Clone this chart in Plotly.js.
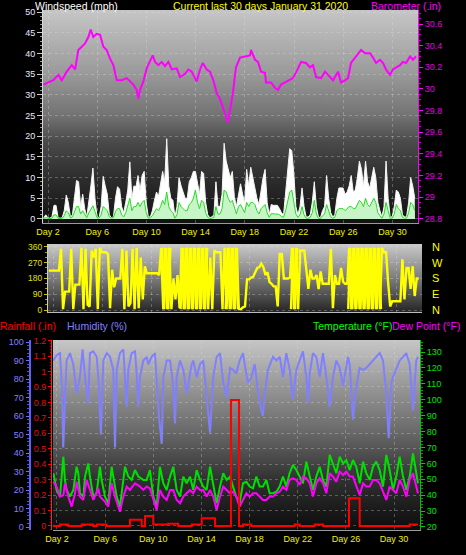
<!DOCTYPE html>
<html><head><meta charset="utf-8">
<script src="https://cdn.plot.ly/plotly-3.0.1.min.js"></script>
<style>html,body{margin:0;padding:0;background:#000;overflow:hidden}#chart{width:466px;height:555px}</style>
</head><body><div id="chart"></div>
<script>
// ---------- data ----------
const dayTicks = [2, 6, 10, 14, 18, 22, 26, 30];
const dayLabels = ["Day 2", "Day 6", "Day 10", "Day 14", "Day 18", "Day 22", "Day 26", "Day 30"];

const windTicks = [0, 5, 10, 15, 20, 25, 30, 35, 40, 45, 50];
const baroTicks = [28.8, 29, 29.2, 29.4, 29.6, 29.8, 30, 30.2, 30.4, 30.6];
const baroLabels = ["28.8", "29", "29.2", "29.4", "29.6", "29.8", "30", "30.2", "30.4", "30.6"];
const dirTicks = [0, 90, 180, 270, 360];
const dirLabels = ["0", "90", "180", "270", "360"];
const compassLabels = ["N", "E", "S", "W", "N"];
const rainTicks = [0, 0.1, 0.2, 0.3, 0.4, 0.5, 0.6, 0.7, 0.8, 0.9, 1, 1.1, 1.2];
const rainLabels = ["0", "0.1", "0.2", "0.3", "0.4", "0.5", "0.6", "0.7", "0.8", "0.9", "1", "1.1", "1.2"];
const humTicks = [0, 10, 20, 30, 40, 50, 60, 70, 80, 90, 100];
const tempTicks = [20, 30, 40, 50, 60, 70, 80, 90, 100, 110, 120, 130];

// wind samples every 4 hours from day 1.65
const windStart = 1.65;
const windStep = 1 / 6;
const windGust = [
  0.3,1,0.3,0.2,0.5,3.3,3.3,0.3,0.2,0.3,
  2,5.8,4,0.5,1,6,9.3,9,3,6,
  2.5,0.5,4,8,12.3,5,0.5,0.3,3,10.3,
  8,6,1,0.3,0.5,5,7.8,7.2,3,1.5,
  4,7,13.8,5,8,7.8,10.5,7,10.5,11.5,
  4,0.5,0.5,2,4.5,6.5,5.5,8.5,11.5,9,
  19.4,8,5,4.5,0.5,3,10,8,6.5,5,
  5,9,10,11.5,11.5,9,6,11.5,11,4,
  1,0.3,0.5,1,9,3,3,6,18.3,14,
  12,10,11.5,5.4,3,5.5,8.5,6,4,12,
  8,12.5,10,8,5,3.5,7,10,12,4,
  1,3.5,3.3,3.3,3.3,2.5,1.5,1,6,12,
  17,16.5,11,3,1,3,7.5,3,0.5,0.5,
  1,4,9,3,0.5,0.3,2,3,10.5,5,
  1.5,0.5,1,5,7.5,7.5,7.5,6,6.5,8,
  10.5,6.5,7,10,14,12,8,14,9,7.5,
  10,12.5,10,4,2,0.5,3,14,5,0.5,
  0.5,3,7,6.5,5,1,0.5,0.5,4,10,
  8,5
];
const windAvg = [
  0.2,0.3,0.2,0.1,0.2,1,1,0.2,0.1,0.1,
  0.8,2,1.5,0.3,0.5,2,3,3,1.2,2,
  1,0.3,1.5,2.5,3.2,1.8,0.3,0.2,1,3,
  2.5,2,0.5,0.2,0.3,1.8,2.5,2.5,1,0.5,
  1.5,3,5,2,3,3,4,3,4,4.5,
  1.5,0.2,0.3,0.8,1.5,2.5,2,3,4.5,3.5,
  6.5,3,2,1.5,0.2,1,4,3,2.5,2,
  2,3.5,4,5,7,4,2.5,4.5,4,1.5,
  0.4,0.1,0.2,0.4,3,1.2,1.2,2.5,7,6.5,
  5,4,4.5,2.5,1.2,3,3.5,2.5,1.5,4,
  3,4,4,3.5,2,1.2,2.5,3,3.5,1.5,
  0.4,1.3,1.2,1.2,1.2,1,0.6,0.4,2,4,
  6.5,7,4,1.2,0.4,1,3,1,0.2,0.2,
  0.4,1.5,4.5,1.2,0.2,0.1,0.8,1.2,3.5,2,
  0.5,0.2,0.4,2,2.5,2.5,2.5,2,2.5,3,
  3,2.5,2.5,3.5,4.5,4,3,5,3.5,3,
  4,5,4,1.5,0.8,0.2,1.2,4,2,0.2,
  0.2,1.2,3.5,2.5,2,0.4,0.2,0.2,1.5,4,
  3.5,2
];
const windDir = [
  225,225,225,225,225,225,350,5,105,105,
  105,350,5,145,145,145,355,5,350,30,
  20,340,300,350,5,355,330,330,330,320,
  10,230,130,180,180,180,350,5,340,20,
  40,350,5,355,10,300,60,250,210,210,
  210,210,210,210,200,355,5,355,5,355,
  5,180,60,200,10,355,5,355,5,355,
  5,355,5,355,5,355,5,355,5,300,
  5,340,330,330,330,5,355,5,355,5,
  355,5,355,5,5,15,20,175,175,185,
  190,215,240,245,265,245,200,215,160,150,
  135,135,20,320,320,180,180,180,185,355,
  5,355,5,340,340,340,230,120,230,180,
  180,200,120,220,150,150,150,150,350,10,
  200,150,150,240,160,150,150,355,5,355,
  5,355,5,355,5,355,5,355,5,355,
  5,355,5,355,330,330,160,20,50,50,
  50,50,50,290,60,240,240,120,250,80,
  180,180
];
// extra in-between readings inside the rapidly flipping (north wind) stretches
const dirFineDay = [10.9,11.067,11.233,11.4,11.567,null,
  12.4,12.567,12.733,12.9,13.067,13.233,13.4,13.567,13.733,13.9,14.067,14.233,14.4,14.567,null,
  16.067,16.233,16.4,16.567,16.733,16.9,17.067,null,
  21.4,21.567,21.733,21.9,null,
  26.067,26.233,26.4,26.567,26.733,26.9,27.067,27.233,27.4,27.567,27.733,27.9,28.067,28.233,28.4,28.567,28.733];
const dirFineVal = [355,5,355,5,355,null,
  5,355,5,355,5,355,5,355,5,355,5,355,5,355,null,
  5,355,5,355,5,355,5,null,
  5,355,5,355,null,
  5,355,5,355,5,355,5,355,5,355,5,355,5,355,5,355,5];

const baroDay = [1.62,2.43,2.84,3.11,3.52,3.93,4.2,4.46,4.74,5.01,5.28,5.47,5.68,5.96,6.23,6.5,6.77,7.04,7.31,7.59,7.99,8.4,8.67,8.93,9.21,9.34,9.48,9.75,10.02,10.29,10.51,10.7,10.97,11.24,11.51,11.78,12.06,12.46,12.73,13.14,13.41,13.68,14.09,14.36,14.58,14.9,15.17,15.44,15.72,15.98,16.25,16.53,16.63,17.04,17.28,17.61,18.02,18.42,18.5,18.83,19.07,19.32,19.64,19.72,20.13,20.45,20.7,20.94,21.27,21.67,21.92,22.33,22.57,22.98,23.3,23.54,23.79,24.2,24.52,24.76,25.17,25.58,25.82,26.15,26.39,26.63,26.96,27.2,27.45,27.77,28.18,28.42,28.67,28.99,29.24,29.48,29.8,30.04,30.29,30.62,30.85,31.11,31.43,31.67,31.92];
const baroVal = [30.04,30.08,30.13,30.08,30.16,30.22,30.18,30.36,30.39,30.42,30.48,30.55,30.48,30.51,30.5,30.39,30.36,30.28,30.22,30.08,30.08,30.1,30.07,30.04,29.99,29.91,29.99,30.07,30.19,30.25,30.31,30.25,30.22,30.25,30.21,30.25,30.18,30.19,30.11,30.14,30.18,30.16,30.07,30.18,30.24,30.18,30.16,30.08,29.96,29.91,29.81,29.73,29.69,29.97,30.2,30.29,30.3,30.31,30.36,30.27,30.25,30.16,30.15,30.06,30.06,30.01,29.99,30.04,30.06,30.08,30.1,30.19,30.25,30.24,30.2,30.22,30.11,30.1,30.16,30.13,30.08,30.16,30.06,30.08,30.1,30.24,30.29,30.33,30.36,30.33,30.33,30.29,30.24,30.27,30.24,30.18,30.13,30.18,30.2,30.22,30.25,30.24,30.3,30.27,30.3];

const humDay = [1.69,1.98,2.25,2.42,2.52,2.66,2.8,3.08,3.35,3.64,3.91,4.13,4.33,4.6,4.74,5.01,5.3,5.43,5.65,5.85,6.13,6.4,6.68,6.82,6.96,7.23,7.51,7.65,7.79,7.92,8.2,8.48,8.62,8.75,8.89,9.17,9.45,9.58,9.86,10.14,10.28,10.47,10.7,10.83,11.11,11.39,11.66,11.8,11.94,12.22,12.49,12.77,13.19,13.32,13.6,13.88,14.15,14.43,14.71,14.98,15.26,15.54,15.81,16.1,16.37,16.62,16.89,17.17,17.45,17.59,17.86,18.14,18.42,18.69,18.97,19.11,19.25,19.52,19.94,20.22,20.5,20.77,21.05,21.33,21.6,21.88,22.16,22.43,22.71,22.85,22.99,23.26,23.54,23.82,24.09,24.37,24.65,24.92,25.2,25.48,25.75,26.17,26.31,26.58,26.86,27.14,27.42,27.69,27.97,28.25,28.8,29.08,29.35,29.55,29.77,29.91,30.18,30.46,30.74,31.01,31.29,31.57,31.84,31.98];
const humVal = [90,93,94,75,43,70,90,94,88,72,81,96,81,67,94,95,92,81,50,90,94,92,85,43,85,94,96,81,65,85,94,95,83,65,81,90,92,88,92,94,78,60,45,81,90,90,76,56,81,90,85,72,88,90,81,88,90,72,51,81,92,94,78,70,86,85,83,90,94,88,78,81,88,74,63,60,72,85,92,90,92,81,94,85,69,85,90,95,81,67,83,94,92,81,94,81,65,81,90,86,76,92,88,58,76,86,85,86,88,90,94,90,72,48,78,81,86,90,92,94,88,63,90,92];

const tempDay = [1.70,1.97,2.25,2.39,2.53,2.66,2.80,3.08,3.36,3.63,3.77,3.91,4.19,4.33,4.60,4.74,5.02,5.29,5.57,5.71,5.99,6.26,6.54,6.68,6.96,7.23,7.51,7.65,7.92,8.20,8.48,8.76,9.17,9.45,9.72,9.86,10.0,10.28,10.55,10.83,11.11,11.39,11.66,11.94,12.22,12.49,12.77,13.05,13.32,13.60,13.88,14.15,14.43,14.71,14.98,15.26,15.54,15.81,16.09,16.37,
  16.62,16.89,17.17,17.45,17.73,18.0,18.28,18.56,18.83,19.11,19.39,19.66,19.94,20.22,20.49,20.77,21.05,21.32,21.60,21.88,22.16,22.43,22.71,22.99,23.26,23.54,23.82,24.09,24.37,24.65,24.92,25.20,25.48,25.76,26.03,26.31,26.58,26.86,27.14,27.42,27.69,27.97,28.25,28.52,28.80,29.08,29.35,29.63,29.91,30.18,30.46,30.74,31.02,31.29,31.57,31.85,31.98];
const tempVal = [53.8,43.3,39.1,49.6,64.2,49.6,43.3,39.1,43.3,57.9,53.8,41.2,39.1,51.7,60.0,51.7,39.1,41.2,57.9,49.6,39.1,34.9,57.9,51.7,39.1,32.8,51.7,57.9,51.7,49.6,55.8,51.7,49.6,49.6,55.8,47.5,39.1,32.8,57.9,47.5,43.3,51.7,57.9,43.3,39.1,51.7,47.5,51.7,43.3,55.8,49.6,45.4,43.3,57.9,47.5,34.9,45.4,53.8,49.6,51.7,
  45.4,39.1,34.9,47.5,48.5,45.4,44.3,51.7,45.4,45.4,49.6,41.2,41.2,42.2,45.4,51.7,45.4,53.8,59.0,55.8,51.7,47.5,61.1,51.7,43.3,51.7,57.9,49.6,45.4,65.3,60.0,53.8,64.2,60.0,62.1,55.8,62.1,57.9,47.5,61.1,53.8,49.6,57.9,61.1,55.8,45.4,65.3,55.8,43.3,51.7,64.2,51.7,43.3,51.7,66.3,53.8,47.5];

const dewDay = [1.70,1.97,2.25,2.53,2.66,2.94,3.22,3.50,3.63,3.91,4.19,4.46,4.74,5.02,5.43,5.57,5.99,6.26,6.54,6.82,7.23,7.51,7.79,8.06,8.48,8.89,9.17,9.45,9.72,10.0,10.28,10.55,10.83,11.11,11.39,11.66,11.94,12.22,12.49,12.77,13.05,13.32,13.60,13.88,14.15,14.43,14.71,14.98,15.26,15.54,15.81,16.09,16.37,
  16.62,16.89,17.17,17.45,17.73,18.0,18.28,18.56,18.83,19.11,19.39,19.66,19.94,20.22,20.49,20.77,21.05,21.32,21.60,21.88,22.16,22.43,22.71,22.99,23.26,23.54,23.82,24.09,24.37,24.65,24.92,25.20,25.48,25.76,26.03,26.31,26.58,26.86,27.14,27.42,27.69,27.97,28.25,28.52,28.80,29.08,29.35,29.63,29.91,30.18,30.46,30.74,31.02,31.29,31.57,31.85,31.98];
const dewVal = [48.5,45.4,39.1,40.1,47.5,39.1,32.8,41.2,48.5,39.1,37.0,49.6,43.3,37.0,44.3,39.1,35.9,32.8,47.5,39.1,29.6,39.1,45.4,43.3,47.5,45.4,43.3,45.4,44.3,37.0,30.7,43.3,39.1,37.0,43.3,43.3,37.0,34.9,39.1,41.2,43.3,41.2,45.4,43.3,43.3,39.1,43.3,39.1,30.7,39.1,45.4,43.3,41.2,
  42.2,39.1,32.8,37.0,41.2,39.1,41.2,41.2,39.1,37.0,37.0,39.1,39.1,41.2,42.2,45.4,43.3,49.6,50.6,49.6,46.4,51.7,50.6,47.5,39.1,47.5,50.6,47.5,41.2,53.8,51.7,48.5,54.8,52.7,54.8,51.7,51.7,45.4,40.1,47.5,45.4,45.4,49.6,49.6,47.5,42.2,37.0,45.4,43.3,41.2,49.6,45.4,39.1,49.6,53.8,45.4,41.2];

const rainDay = [1.62,2.25,2.94,4.05,5.01,5.3,6.13,8.06,9.03,9.31,10.0,11.24,12.07,13.19,14.02,15.12,16.45,17.12,17.45,18.14,21.74,22.16,23.4,24.1,26.25,27.14,31.29,31.98];
const rainVal = [0,0.01,0,0.01,0,0.01,0,0.04,0,0.065,0.01,0.015,0,0.01,0.05,0,0.815,0,0.01,0,0.01,0,0.01,0,0.18,0,0.01,0.01];

// ---------- layout helpers ----------
const W = 466, H = 555;
const fx = p => p / W, fy = p => 1 - p / H;
const TOP = {l: 43, r: 418, t: 10, b: 223};
const MID = {l: 48, r: 422, t: 244, b: 312};
const BOT = {l: 53, r: 420, t: 340, b: 530};
const FONT = 'Liberation Sans, Arial, sans-serif';
const GRID = 'rgba(225,225,225,0.3)';

function gradient(stops) {
  const c = document.createElement('canvas');
  c.width = 2; c.height = 256;
  const g = c.getContext('2d');
  const lg = g.createLinearGradient(0, 0, 0, 256);
  stops.forEach(s => lg.addColorStop(s[0], s[1]));
  g.fillStyle = lg; g.fillRect(0, 0, 2, 256);
  return c.toDataURL();
}
function bgImage(p, stops) {
  return {source: gradient(stops), xref: 'paper', yref: 'paper', x: fx(p.l), y: fy(p.t),
    sizex: fx(p.r) - fx(p.l), sizey: (p.b - p.t) / H, sizing: 'stretch',
    xanchor: 'left', yanchor: 'top', layer: 'below'};
}

const windX = windGust.map((_, i) => windStart + i * windStep);

const traces = [
  {x: windX, y: windGust, xaxis: 'x', yaxis: 'y', mode: 'lines', fill: 'tozeroy',
   fillcolor: '#ffffff', line: {color: '#f4f4f4', width: 1}, hoverinfo: 'skip'},
  {x: windX, y: windAvg, xaxis: 'x', yaxis: 'y', mode: 'lines', fill: 'tozeroy',
   fillcolor: '#c8f5c8', line: {color: '#22dd22', width: 1}, hoverinfo: 'skip'},
  {x: baroDay, y: baroVal, xaxis: 'x', yaxis: 'y2', mode: 'lines',
   line: {color: '#ff00ff', width: 2}},
  {x: windX, y: windDir, xaxis: 'x2', yaxis: 'y3', mode: 'lines',
   line: {color: '#ffff00', width: 2.4}},
  {x: dirFineDay, y: dirFineVal, xaxis: 'x2', yaxis: 'y3', mode: 'lines', connectgaps: false,
   line: {color: '#ffff00', width: 2.4}},
  {x: [], y: [], xaxis: 'x2', yaxis: 'y4', mode: 'lines'},
  {x: tempDay, y: tempVal, xaxis: 'x3', yaxis: 'y5', mode: 'lines',
   line: {color: '#00e000', width: 2}},
  {x: dewDay, y: dewVal, xaxis: 'x3', yaxis: 'y5', mode: 'lines',
   line: {color: '#ff00ff', width: 2}},
  {x: humDay, y: humVal, xaxis: 'x3', yaxis: 'y6', mode: 'lines',
   line: {color: '#8080ff', width: 2}},
  {x: rainDay, y: rainVal, xaxis: 'x3', yaxis: 'y7', mode: 'lines',
   line: {color: '#ff0000', width: 2, shape: 'hv'}}
];

const xCommon = {tickmode: 'array', tickvals: dayTicks, ticktext: dayLabels,
  tickfont: {color: '#f2f200', size: 9, family: FONT}, showgrid: true, gridcolor: GRID,
  griddash: 'dot', zeroline: false, ticks: '', showline: true, linecolor: '#9a9a9a', fixedrange: true};

const layout = {
  width: W, height: H, margin: {l: 0, r: 0, t: 0, b: 0},
  paper_bgcolor: '#000000', plot_bgcolor: 'rgba(0,0,0,0)',
  showlegend: false, font: {family: FONT, color: '#ffffff'},
  images: [
    bgImage(TOP, [[0, '#c6c6c6'], [0.3, '#9a9a9a'], [0.5, '#727272'], [0.62, '#4a4a4a'], [0.8, '#2c2c2c'], [1, '#121212']]),
    bgImage(MID, [[0, '#cacaca'], [0.5, '#7c7c7c'], [1, '#262626']]),
    bgImage(BOT, [[0, '#c6c6c6'], [0.47, '#6c6c6c'], [0.74, '#303030'], [1, '#0c0c0c']])
  ],
  xaxis: Object.assign({}, xCommon, {domain: [fx(TOP.l), fx(TOP.r)], range: [1.59, 32.08], anchor: 'y'}),
  yaxis: {domain: [fy(TOP.b), fy(TOP.t)], range: [-0.97, 50.5], anchor: 'x',
    tickmode: 'array', tickvals: windTicks, tickfont: {color: '#e8ecff', size: 9},
    ticks: 'outside', ticklen: 5, tickcolor: '#cccccc',
    minor: {tickmode: 'linear', tick0: 0, dtick: 1, ticks: 'outside', ticklen: 2, tickcolor: '#9a9a9a'},
    showgrid: true, gridcolor: GRID, griddash: 'dot', zeroline: false,
    showline: true, linecolor: '#d8d8d8', fixedrange: true},
  yaxis2: {overlaying: 'y', side: 'right', anchor: 'x', range: [28.76, 30.73],
    tickmode: 'array', tickvals: baroTicks, ticktext: baroLabels,
    tickfont: {color: '#e000e0', size: 9}, ticks: 'outside', ticklen: 4, tickcolor: '#ff00ff',
    minor: {tickmode: 'linear', tick0: 28.8, dtick: 0.05, ticks: 'outside', ticklen: 2, tickcolor: '#c000c0'},
    showgrid: false, zeroline: false, showline: true, linecolor: '#ff00ff', fixedrange: true},
  xaxis2: Object.assign({}, xCommon, {domain: [fx(MID.l), fx(MID.r)], range: [1.59, 32.08],
    anchor: 'y3', showticklabels: false, linecolor: '#bbbbbb'}),
  yaxis3: {domain: [fy(MID.b), fy(MID.t)], range: [-11.4, 377], anchor: 'x2',
    tickmode: 'array', tickvals: dirTicks, ticktext: dirLabels,
    tickfont: {color: '#e0e000', size: 8.5}, ticks: 'outside', ticklen: 3, tickcolor: '#c8c800',
    minor: {tickmode: 'linear', tick0: 0, dtick: 30, ticks: 'outside', ticklen: 2, tickcolor: '#a0a000'},
    showgrid: true, gridcolor: GRID, griddash: 'dot', zeroline: false,
    showline: true, linecolor: '#cccccc', fixedrange: true},
  yaxis4: {overlaying: 'y3', side: 'right', anchor: 'free', position: fx(431), range: [-11.4, 377],
    tickmode: 'array', tickvals: dirTicks, ticktext: compassLabels,
    tickfont: {color: '#ffff00', size: 11}, ticks: '', showline: false, showgrid: false,
    zeroline: false, fixedrange: true},
  xaxis3: Object.assign({}, xCommon, {domain: [fx(BOT.l), fx(BOT.r)], range: [1.67, 32.15], anchor: 'y5'}),
  yaxis5: {domain: [fy(BOT.b), fy(BOT.t)], range: [18.1, 137.6], anchor: 'x3', side: 'right',
    tickmode: 'array', tickvals: tempTicks, tickfont: {color: '#00e000', size: 9},
    ticks: 'outside', ticklen: 4, tickcolor: '#00d000',
    minor: {tickmode: 'linear', tick0: 20, dtick: 2, ticks: 'outside', ticklen: 2, tickcolor: '#00a000'},
    showgrid: false, zeroline: false, showline: true, linecolor: '#00c000', fixedrange: true},
  yaxis6: {overlaying: 'y5', side: 'left', anchor: 'free', position: fx(29.5), range: [-1.6, 101.1],
    tickmode: 'array', tickvals: humTicks, tickfont: {color: '#8080ff', size: 9},
    ticks: 'outside', ticklen: 3, tickcolor: '#7070ff',
    minor: {tickmode: 'linear', tick0: 0, dtick: 2, ticks: 'outside', ticklen: 2, tickcolor: '#5050d0'},
    showgrid: false, zeroline: false, showline: true, linecolor: '#6060ff', linewidth: 2, fixedrange: true},
  yaxis7: {overlaying: 'y5', side: 'left', anchor: 'free', position: fx(51), range: [-0.026, 1.204],
    tickmode: 'array', tickvals: rainTicks, ticktext: rainLabels,
    tickfont: {color: '#e01010', size: 9}, ticks: 'outside', ticklen: 3, tickcolor: '#ff0000',
    minor: {tickmode: 'linear', tick0: 0, dtick: 0.02, ticks: 'outside', ticklen: 1, tickcolor: '#c00000'},
    showgrid: true, gridcolor: GRID, griddash: 'dot', zeroline: false,
    showline: true, linecolor: '#ff2020', fixedrange: true},
  annotations: [
    {text: 'Windspeed (mph)', x: fx(34), y: fy(6), color: '#ffffff'},
    {text: 'Current last 30 days January 31 2020', x: fx(172), y: fy(6), color: '#ffff00'},
    {text: 'Barometer (.in)', x: fx(370), y: fy(6), color: '#ff00ff'},
    {text: 'Rainfall (.in)', x: fx(-1), y: fy(326), color: '#ff0000'},
    {text: 'Humidity (%)', x: fx(66), y: fy(326), color: '#8080ff'},
    {text: 'Temperature (°F)', x: fx(312), y: fy(326), color: '#00ff00'},
    {text: 'Dew Point (°F)', x: fx(391), y: fy(326), color: '#ff00ff'}
  ].map(a => ({text: a.text, x: a.x, y: a.y, xref: 'paper', yref: 'paper', xanchor: 'left',
    yanchor: 'middle', showarrow: false, borderpad: 0, font: {color: a.color, size: 10.5, family: FONT}}))
};

Plotly.newPlot('chart', traces, layout, {staticPlot: true, displayModeBar: false});
</script>
</body></html>
